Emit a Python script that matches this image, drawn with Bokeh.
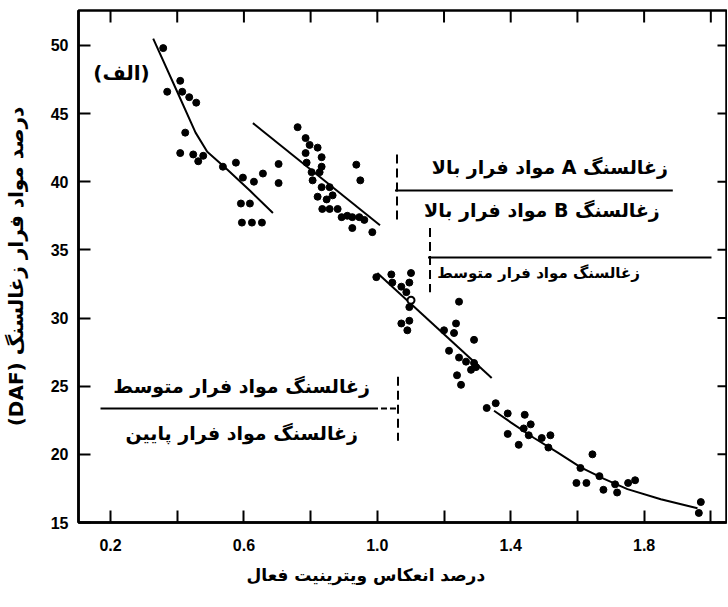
import math
from bokeh.plotting import figure
from bokeh.models import LinearAxis, FixedTicker, Label, Range1d, Title, NumeralTickFormatter
from bokeh.embed import file_html
from bokeh.resources import INLINE

# ---------------- data ----------------
g1_x = [0.358, 0.409, 0.370, 0.415, 0.436, 0.457, 0.424, 0.409, 0.448, 0.463, 0.478, 0.537,
        0.576, 0.597, 0.630, 0.657, 0.704, 0.704, 0.591, 0.618, 0.594, 0.624, 0.654]
g1_y = [49.8, 47.4, 46.6, 46.6, 46.2, 45.8, 43.6, 42.1, 42.0, 41.5, 41.9, 41.1,
        41.4, 40.3, 40.0, 40.6, 41.3, 39.9, 38.4, 38.4, 37.0, 37.0, 37.0]

g2_x = [0.761, 0.785, 0.797, 0.821, 0.833, 0.833, 0.827, 0.803, 0.788, 0.785, 0.806, 0.833,
        0.857, 0.866, 0.848, 0.821, 0.835, 0.857, 0.881, 0.893, 0.910, 0.925, 0.946, 0.961,
        0.925, 0.985, 0.937, 0.949]
g2_y = [44.0, 43.2, 42.7, 42.5, 41.8, 41.1, 40.7, 40.7, 41.4, 42.1, 40.1, 39.6,
        39.6, 39.0, 38.7, 38.9, 38.0, 38.0, 38.0, 37.4, 37.5, 37.4, 37.4, 37.2,
        36.6, 36.3, 41.25, 40.1]

g3_x = [0.997, 1.042, 1.045, 1.101, 1.096, 1.072, 1.087, 1.096, 1.245, 1.072, 1.090, 1.096,
        1.200, 1.236, 1.230, 1.290, 1.215, 1.245, 1.266, 1.290, 1.281, 1.239, 1.251, 1.296]
g3_y = [33.0, 33.2, 32.6, 33.3, 32.6, 32.3, 31.9, 30.8, 31.2, 29.6, 29.1, 29.8,
        29.1, 29.6, 28.9, 28.4, 27.6, 27.1, 26.8, 26.7, 26.2, 25.8, 25.1, 26.4]
open_x = [1.101]
open_y = [31.3]

g4_x = [1.328, 1.355, 1.391, 1.442, 1.391, 1.439, 1.460, 1.454, 1.424, 1.493, 1.519, 1.513,
        1.645, 1.609, 1.597, 1.627, 1.666, 1.678, 1.713, 1.719, 1.752, 1.773, 1.970, 1.964]
g4_y = [23.4, 23.75, 23.0, 22.9, 21.5, 21.9, 22.2, 21.4, 20.7, 21.2, 21.4, 20.5,
        20.0, 19.0, 17.9, 17.9, 18.4, 17.4, 17.8, 17.2, 17.9, 18.1, 16.5, 15.7]

c1_x = [0.328, 0.40, 0.455, 0.49, 0.55, 0.62, 0.687]
c1_y = [50.5, 46.6, 43.6, 42.2, 40.9, 39.3, 37.7]
c2_x = [0.627, 1.008]
c2_y = [44.3, 36.8]
c3_x = [1.0, 1.343]
c3_y = [33.3, 25.6]
c4_x = [1.35, 1.40, 1.47, 1.54, 1.61, 1.68, 1.75, 1.85, 1.96]
c4_y = [23.2, 22.35, 21.2, 20.15, 19.05, 18.2, 17.45, 16.7, 16.05]

# rank boundary lines
hA_x = [1.053, 1.886]; hA_y = [39.36, 39.36]
vA_x = [1.059, 1.059]; vA_y = [42.0, 36.9]
hB_x = [1.152, 2.002]; hB_y = [34.44, 34.44]
vB_x = [1.158, 1.158]; vB_y = [36.6, 31.9]
hC_x = [0.170, 0.984]; hC_y = [23.36, 23.36]
hCd_x = [0.984, 1.062]; hCd_y = [23.36, 23.36]
vC_x = [1.062, 1.062]; vC_y = [25.7, 21.0]

x_major = [0.2, 0.6, 1.0, 1.4, 1.8]
x_minor = [0.4, 0.8, 1.2, 1.6, 2.0]
y_ticks = [15, 20, 25, 30, 35, 40, 45, 50]

RLE, PDF = "\u202B", "\u202C"
txt_A = "زغالسنگ A مواد فرار بالا"
txt_B = "زغالسنگ B مواد فرار بالا"
txt_mid = "زغالسنگ مواد فرار متوسط"
txt_low = "زغالسنگ مواد فرار پایین"
txt_panel = "(الف)"
x_title = "درصد انعکاس ویترینیت فعال"
y_title = "درصد مواد فرار زغالسنگ (DAF)"

FONT = "DejaVu Sans"
X0, X1, Y0, Y1 = 0.104, 2.047, 15, 52.56

p = figure(width=727, height=604, output_backend="svg", toolbar_location=None,
           x_range=Range1d(X0, X1), y_range=Range1d(Y0, Y1),
           min_border_left=78, min_border_right=1, min_border_top=10, min_border_bottom=82,
           x_axis_location=None, y_axis_location=None)
p.grid.visible = False
p.outline_line_color = "black"
p.outline_line_width = 2.5
p.background_fill_color = "white"
p.border_fill_color = "white"


def style_axis(ax):
    ax.axis_line_color = "black"
    ax.axis_line_width = 2.5
    ax.major_tick_line_color = "black"
    ax.major_tick_line_width = 2
    ax.minor_tick_line_color = "black"
    ax.minor_tick_line_width = 2
    ax.major_tick_in = 12
    ax.major_tick_out = 0
    ax.minor_tick_in = 12
    ax.minor_tick_out = 0
    ax.major_label_text_font = "Liberation Sans"
    ax.major_label_text_font_style = "bold"
    ax.major_label_text_font_size = "16px"
    ax.major_label_text_color = "black"


xt = FixedTicker(ticks=x_major, minor_ticks=x_minor)
yt = FixedTicker(ticks=y_ticks, minor_ticks=[])

bx = LinearAxis(ticker=xt, formatter=NumeralTickFormatter(format="0.0"))
style_axis(bx); bx.major_label_standoff = 16
ly = LinearAxis(ticker=yt); style_axis(ly); ly.major_label_standoff = 10
ly.axis_label = RLE + y_title + PDF
ly.axis_label_text_font = FONT
ly.axis_label_text_font_style = "bold"
ly.axis_label_text_font_size = "20px"
ly.axis_label_text_color = "black"
ly.axis_label_standoff = 20
p.add_layout(bx, "below")
p.add_layout(ly, "left")

# inward ticks on the top and right frame edges
top_ticks = x_major + x_minor
p.ray(x=top_ticks, y=[Y1] * len(top_ticks), length=12, length_units="screen",
      angle=-math.pi / 2, line_color="black", line_width=2)
p.ray(x=[X1] * len(y_ticks), y=y_ticks, length=9, length_units="screen",
      angle=math.pi, line_color="black", line_width=2)

p.add_layout(Title(text=x_title, align="left", offset=168, standoff=19,
                   text_font=FONT, text_font_style="bold", text_font_size="17px",
                   text_color="black"), "below")

# curves
for cx, cy in [(c1_x, c1_y), (c2_x, c2_y), (c3_x, c3_y), (c4_x, c4_y)]:
    p.line(cx, cy, line_color="black", line_width=2)

# points
for gx, gy in [(g1_x, g1_y), (g2_x, g2_y), (g3_x, g3_y), (g4_x, g4_y)]:
    p.scatter(gx, gy, size=7, marker="circle", fill_color="black", line_color="black")
p.scatter(open_x, open_y, size=7, marker="circle", fill_color="white", line_color="black", line_width=2)

# boundaries
for bxs, bys in [(hA_x, hA_y), (hB_x, hB_y), (hC_x, hC_y)]:
    p.line(bxs, bys, line_color="black", line_width=2)
p.line(hCd_x, hCd_y, line_color="black", line_width=2, line_dash="6 3")
for bxs, bys in [(vA_x, vA_y), (vB_x, vB_y), (vC_x, vC_y)]:
    p.line(bxs, bys, line_color="black", line_width=2, line_dash="9 5")


def lab(x, y, t, size="19px", align="right"):
    p.add_layout(Label(x=x, y=y, text=t, text_font=FONT, text_font_style="bold",
                       text_font_size=size, text_align=align, text_baseline="middle",
                       text_color="black"))


lab(1.871, 41.05, RLE + txt_A + PDF)
lab(1.847, 37.89, RLE + txt_B + PDF)
lab(1.787, 33.27, txt_mid, size="15px")
lab(0.978, 24.98, txt_mid)
lab(0.942, 21.6, txt_low)
lab(0.233, 48.0, txt_panel, size="20px", align="center")

open("out.html", "w").write(file_html(p, INLINE))
